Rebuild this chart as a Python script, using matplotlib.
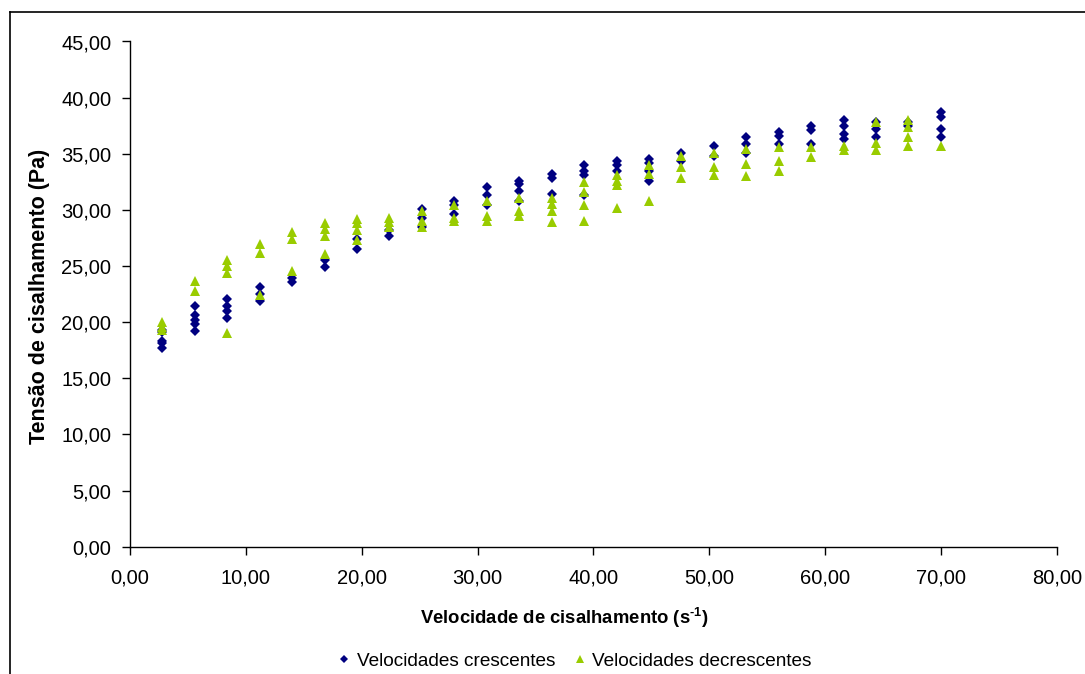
import matplotlib
matplotlib.use("Agg")
import matplotlib.pyplot as plt
from matplotlib.ticker import FuncFormatter, MultipleLocator
from matplotlib.lines import Line2D

plt.rcParams['font.family'] = ['Liberation Sans', 'DejaVu Sans']
plt.rcParams['mathtext.fontset'] = 'custom'
plt.rcParams['mathtext.rm'] = 'Liberation Sans:bold'
plt.rcParams['mathtext.bf'] = 'Liberation Sans:bold'
plt.rcParams['mathtext.it'] = 'Liberation Sans:bold'

# Shear rate levels (s^-1)
shear_rates = [2.8, 5.6, 8.4, 11.2, 14.0, 16.8, 19.6, 22.4, 25.2, 28.0, 30.8, 33.6,
               36.4, 39.2, 42.0, 44.8, 47.6, 50.4, 53.2, 56.0, 58.8, 61.6, 64.4, 67.2, 70.0]

# Shear stress (Pa) - increasing velocities (replicates per shear rate)
stress_up = [
    [19.3, 19.1, 18.3, 18.1, 17.7],
    [21.4, 20.6, 20.2, 19.8, 19.2],
    [22.1, 21.4, 21.0, 20.4],
    [23.1, 22.5, 21.9],
    [23.9, 23.6],
    [25.5, 24.9],
    [27.4, 26.5],
    [28.2, 27.7],
    [30.1, 29.3, 28.5],
    [30.8, 30.4, 29.6],
    [32.0, 31.3, 30.4],
    [32.6, 32.3, 31.7, 30.8],
    [33.2, 32.8, 31.4],
    [34.0, 33.5, 33.1, 31.3],
    [34.4, 34.0, 33.5],
    [34.5, 34.2, 33.5, 32.6],
    [35.1, 34.4],
    [35.7, 34.8],
    [36.5, 35.9, 35.1],
    [36.9, 36.6, 35.9],
    [37.5, 37.1, 35.9],
    [38.0, 37.5, 36.8, 36.3],
    [37.8, 37.2, 36.5],
    [37.8, 37.5],
    [38.7, 38.3, 37.2, 36.5],
]

# Shear stress (Pa) - decreasing velocities
stress_down = [
    [20.0, 19.6, 19.3],
    [23.7, 22.8],
    [25.5, 25.0, 24.4, 19.0],
    [27.0, 26.2, 22.4],
    [28.0, 27.4, 24.6],
    [28.8, 28.3, 27.7, 26.1],
    [29.2, 28.8, 28.2, 27.3],
    [29.3, 28.9, 28.5],
    [29.9, 29.0, 28.5],
    [30.4, 29.3, 29.0],
    [30.8, 29.5, 29.0],
    [31.1, 29.9, 29.5],
    [31.1, 30.5, 29.9, 28.9],
    [32.5, 31.6, 30.4, 29.0],
    [33.1, 32.6, 32.2, 30.2],
    [34.0, 33.2, 30.8],
    [34.8, 33.8, 32.8],
    [35.1, 33.8, 33.1],
    [35.4, 34.1, 33.0],
    [35.6, 34.4, 33.5],
    [35.6, 34.7],
    [35.7, 35.3],
    [37.8, 36.0, 35.3],
    [38.0, 37.4, 36.5, 35.7],
    [35.7],
]

label_up = "Velocidades crescentes"
label_down = "Velocidades decrescentes"
xlabel = r"Velocidade de cisalhamento (s$^{\text{-1}}$)"
ylabel = "Tensão de cisalhamento (Pa)"


def flatten(levels, groups):
    xs, ys = [], []
    for x, g in zip(levels, groups):
        for y in g:
            xs.append(x)
            ys.append(y)
    return xs, ys


xu, yu = flatten(shear_rates, stress_up)
xd, yd = flatten(shear_rates, stress_down)

W, H = 1085, 674
fig = plt.figure(figsize=(W / 100, H / 100), dpi=100)
x0, x1, y0, y1 = 130, 1056.7, 546.7, 41.5
ax = fig.add_axes([x0 / W, 1 - y0 / H, (x1 - x0) / W, (y0 - y1) / H])

c_up = "#000080"
c_down = "#99CC00"
ax.plot(xu, yu, linestyle="none", marker="D", markersize=5.6, color=c_up, markeredgewidth=0, zorder=3)
ax.plot(xd, yd, linestyle="none", marker="^", markersize=7.2, color=c_down, markeredgewidth=0, zorder=4)

ax.set_xlim(0, 80)
ax.set_ylim(0, 45)
ax.xaxis.set_major_locator(MultipleLocator(10))
ax.yaxis.set_major_locator(MultipleLocator(5))
fmt = FuncFormatter(lambda v, p: f"{v:.2f}".replace(".", ","))
ax.xaxis.set_major_formatter(fmt)
ax.yaxis.set_major_formatter(fmt)

for s in ["top", "right"]:
    ax.spines[s].set_visible(False)
for s in ["left", "bottom"]:
    ax.spines[s].set_color("#000000")
    ax.spines[s].set_linewidth(1.0)
ax.tick_params(axis="both", direction="out", length=6, width=1.0, labelsize=14.5, colors="#000000")
ax.tick_params(axis="x", pad=10)
ax.tick_params(axis="y", pad=7.5)

ax.set_xlabel(xlabel, fontsize=13.3, fontweight="bold", va="center")
ax.xaxis.set_label_coords((564 - x0) / (x1 - x0), (y0 - 618) / (y0 - y1))
ax.set_ylabel(ylabel, fontsize=15.5, fontweight="bold", va="center")
ax.yaxis.set_label_coords((39.5 - x0) / (x1 - x0), (y0 - 296.5) / (y0 - y1))

handles = [
    Line2D([], [], linestyle="none", marker="D", markersize=4.5, color=c_up, markeredgewidth=0),
    Line2D([], [], linestyle="none", marker="^", markersize=6, color=c_down, markeredgewidth=0),
]
fig.legend(handles, [label_up, label_down], loc="center", bbox_to_anchor=(575 / W, 1 - 661 / H),
           ncol=2, frameon=False, fontsize=13.7, handlelength=0.6, handletextpad=0.35, columnspacing=1.0,
           borderaxespad=0, borderpad=0)

# Outer chart frame (left and top edges visible)
fig.add_artist(Line2D([9.5 / W, 9.5 / W], [1 - 11.5 / H, 0], color="black", linewidth=1.2,
                      transform=fig.transFigure))
fig.add_artist(Line2D([9.5 / W, 1], [1 - 11.5 / H, 1 - 11.5 / H], color="black", linewidth=1.2,
                      transform=fig.transFigure))

fig.savefig("out.png", dpi=100)
